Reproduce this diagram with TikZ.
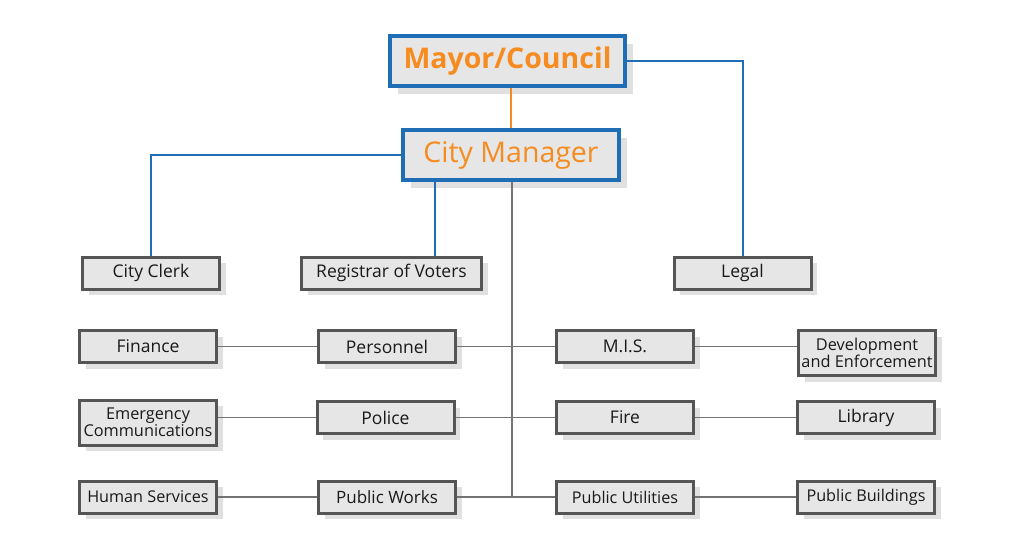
\documentclass[tikz,border=0pt]{standalone}
\usepackage{fontspec}
\setmainfont{Open Sans}
\usetikzlibrary{shadows}
\definecolor{boxblue}{HTML}{1F6DB5}
\definecolor{boxorange}{HTML}{F68B1F}
\definecolor{boxgray}{HTML}{E6E6E6}
\definecolor{edgegray}{HTML}{555555}
\begin{document}
\begin{tikzpicture}[x=1pt, y=-1pt,
	unit/.style={draw=edgegray, line width=3pt, fill=boxgray, minimum width=137pt, minimum height=32pt, inner sep=0pt,
		font=\fontsize{17.5}{18}\selectfont, text=black!90,
		drop shadow={shadow xshift=6pt, shadow yshift=-6pt, fill=black!12, opacity=1}},
	narrow/.style={font=\fontsize{16.2}{17}\selectfont},
	tallunit/.style={unit, minimum height=45pt, align=center, font=\fontsize{16.3}{14.5}\selectfont},
	head/.style={draw=boxblue, line width=4pt, fill=boxgray, minimum height=50pt, inner sep=0pt, text=boxorange,
		font=\fontsize{28.5}{30}\selectfont,
		drop shadow={shadow xshift=8pt, shadow yshift=-8pt, fill=black!12, opacity=1}},
	blueline/.style={boxblue, line width=2pt},
	grayline/.style={black!55, line width=1.3pt}]
	%\draw[help lines] (0,0) grid (1024,553);
	\useasboundingbox (0,0) rectangle (1024,553);

	\node [head, minimum width=235pt, font=\fontsize{28.5}{30}\bfseries] (mayor) at (507.5, 61) {Mayor/Council};	% top
	\node [head, minimum width=216pt] (cm) at (511, 155) {City Manager};

	\node [unit] (clerk) at (151, 273) {City Clerk};
	\node [unit, minimum width=180pt] (reg) at (391.5, 273) {Registrar of Voters};
	\node [unit] (legal) at (742.5, 273) {Legal};

	\node [unit] (fin) at (148, 346.5) {Finance};
	\node [unit] (pers) at (387, 346.5) {Personnel};
	\node [unit] (mis) at (625, 346.5) {M.I.S.};
	\node [tallunit] (dev) at (867, 353) {Development\\and Enforcement};

	\node [tallunit] (emerg) at (148, 422.5) {Emergency\\Communications};
	\node [unit] (police) at (385.5, 417.5) {Police};
	\node [unit] (fire) at (625, 417.5) {Fire};
	\node [unit] (lib) at (866, 417.5) {Library};

	\node [unit, narrow] (hum) at (148, 497) {Human Services};
	\node [unit, font=\fontsize{17}{18}\selectfont] (pw) at (387, 497) {Public Works};
	\node [unit, narrow] (pu) at (625, 497) {Public Utilities};
	\node [unit, narrow] (pb) at (866, 497) {Public Buildings};

	\coordinate (regdrop) at (435, 273);		% blue drop to registrar
	\coordinate (trunk) at (512, 497);			% gray trunk foot

	\draw [boxorange, line width=2pt] (cm.north) -- (cm.north |- mayor.south);
	\draw [blueline] (mayor.east) -| (legal.north);
	\draw [blueline] (cm.west) -| (clerk.north);
	\draw [blueline] (regdrop |- cm.south) -- (regdrop |- reg.north);

	\draw [grayline] (trunk |- cm.south) -- (trunk);
	\draw [grayline] (fin) -- (pers);
	\draw [grayline] (pers) -- (mis);
	\draw [grayline] (mis) -- (dev.west |- mis);
	\draw [grayline] (emerg.east |- police) -- (police);
	\draw [grayline] (police) -- (fire);
	\draw [grayline] (fire) -- (lib);
	\draw [grayline] (hum) -- (pw);
	\draw [grayline] (pw) -- (pu);
	\draw [grayline] (pu) -- (pb);

\end{tikzpicture}
\end{document}
